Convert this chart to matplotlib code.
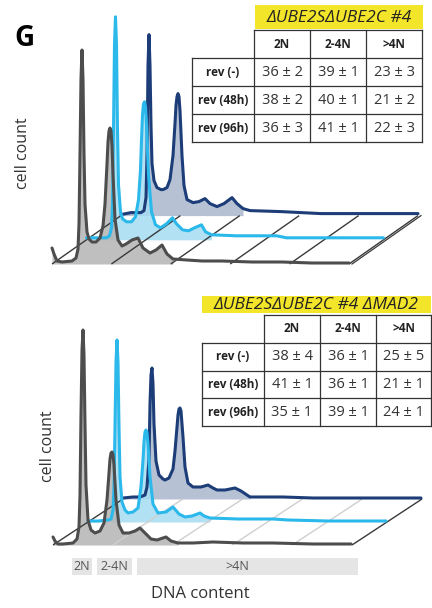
import numpy as np
import matplotlib.pyplot as plt
from matplotlib.patches import Rectangle

plt.rcParams["font.family"] = ["Open Sans", "DejaVu Sans"]

# ====================== data ======================
# DNA content axis in channel units (2N ~ 30, 4N ~ 58), counts in a.u.
# front (gray) / middle (light blue) / back (navy) histograms, upper panel
TOP_GRAY_DNA = [0, 2, 5, 10, 20, 24, 26, 27, 28, 29, 30, 31, 32, 33, 35, 37, 40, 44, 48, 51, 53, 55, 56,
                57, 58, 59, 60, 61, 63, 66, 70, 74, 80, 86, 91, 98, 104, 110, 115, 121, 135, 150, 170,
                200, 230, 260, 297]
TOP_GRAY_CNT = [16, 10, 3, 2, 3, 6, 15, 40, 110, 185, 214, 185, 110, 60, 32, 25, 22, 22, 26, 38, 60, 100, 122,
                133, 136, 133, 118, 90, 45, 24, 18, 20, 24, 26, 16, 11, 14, 19, 10, 5, 4, 3, 3,
                2, 2, 1, 1]

TOP_LBLUE_DNA = [0, 10, 20, 23, 25, 26, 27, 28, 29, 30, 31, 32, 34, 36, 40, 45, 49, 52, 54, 55, 56, 57, 58,
                 59, 60, 62, 65, 69, 74, 80, 86, 90, 96, 102, 108, 115, 119, 125, 150, 190, 200, 297]
TOP_LBLUE_CNT = [2, 2, 2, 4, 12, 35, 110, 195, 223, 195, 110, 55, 28, 21, 18, 18, 23, 40, 70, 100, 125, 136, 138,
                 133, 115, 65, 28, 15, 12, 16, 22, 16, 10, 9, 12, 15, 8, 5, 4, 4, 2, 2]

TOP_NAVY_DNA = [0, 10, 20, 23, 25, 26, 27, 28, 29, 30, 31, 33, 36, 40, 42, 46, 49, 52, 54, 55, 56, 57, 58,
                59, 61, 63, 66, 72, 78, 84, 89, 96, 103, 111, 116, 122, 129, 160, 180, 200, 297]
TOP_NAVY_CNT = [1, 3, 3, 5, 18, 60, 150, 181, 150, 90, 52, 35, 28, 26, 26, 28, 36, 60, 92, 110, 119, 122, 119,
                105, 60, 30, 16, 13, 14, 17, 12, 9, 12, 18, 12, 7, 5, 4, 3, 2, 2]

# lower panel (+ MAD2 deletion)
BOT_GRAY_DNA = [0, 2, 5, 10, 20, 24, 26, 27, 28, 29, 30, 31, 32, 33, 35, 38, 42, 47, 51, 54, 56, 57, 58,
                59, 60, 61, 63, 66, 70, 76, 82, 87, 92, 98, 104, 110, 113, 118, 125, 140, 160, 190, 220,
                260, 298]
BOT_GRAY_CNT = [8, 4, 1, 1, 2, 6, 18, 50, 130, 195, 215, 190, 120, 60, 25, 15, 12, 14, 22, 45, 72, 86, 92,
                93, 90, 80, 45, 20, 12, 12, 14, 17, 12, 6, 5, 7, 8, 4, 2, 2, 3, 2, 2,
                1, 1]

BOT_LBLUE_DNA = [0, 10, 20, 23, 25, 26, 27, 28, 29, 30, 31, 32, 34, 37, 40, 45, 50, 53, 55, 56, 57, 58, 59,
                 60, 62, 65, 70, 78, 85, 91, 97, 104, 112, 116, 122, 150, 185, 200, 240, 298]
BOT_LBLUE_CNT = [1, 1, 2, 3, 12, 35, 95, 160, 182, 160, 95, 45, 20, 12, 9, 10, 14, 35, 62, 80, 90, 92, 89,
                 78, 45, 18, 9, 10, 15, 8, 5, 6, 9, 6, 4, 3, 3, 2, 1, 1]

BOT_NAVY_DNA = [0, 10, 17, 22, 24, 26, 27, 28, 29, 30, 31, 33, 36, 40, 42, 46, 50, 52, 54, 55, 56, 57, 58,
                60, 62, 65, 70, 78, 85, 90, 94, 102, 112, 118, 127, 140, 160, 190, 220, 298]
BOT_NAVY_CNT = [1, 2, 2, 4, 12, 40, 95, 124, 131, 115, 75, 38, 24, 20, 19, 21, 30, 48, 72, 84, 90, 91, 88,
                62, 32, 16, 12, 12, 14, 11, 9, 9, 11, 8, 2, 2, 2, 1, 1, 1]

# DNA-content gates
GATE_LABELS = ["2N", "2-4N", ">4N"]
GATE_BOUNDS = [(19, 39), (44, 79), (84, 305)]

# percent of cells per gate, mean and sd, rows: rev (-), rev (48h), rev (96h)
ROW_LABELS = ["rev (-)", "rev (48h)", "rev (96h)"]
TOP_MEAN = [[36, 39, 23], [38, 40, 21], [36, 41, 22]]
TOP_SD = [[2, 1, 3], [2, 1, 2], [3, 1, 3]]
BOT_MEAN = [[38, 36, 25], [41, 36, 21], [35, 39, 24]]
BOT_SD = [[4, 1, 5], [1, 1, 1], [1, 1, 1]]

TOP_TITLE = "ΔUBE2SΔUBE2C #4"
BOT_TITLE = "ΔUBE2SΔUBE2C #4 ΔMAD2"

# ====================== style ======================
LINE_COLORS = ["#4d4d4d", "#2bb8ea", "#1c3d78"]
FILL_COLORS = ["#b4b4b4", "#a6dcf3", "#a9b6cd"]
EDGE = "#3a3a3a"
YELLOW = "#f3e52a"


def draw_panel(ax, x0, y0, step, floor_len, traces, grid_color, double_edge):
    """3 histograms stacked in an oblique waterfall; depth 0 = front"""
    dx, dy = step
    nd = len(traces) - 1
    # floor divisions
    edges = np.linspace(0, floor_len, 6)
    for i, e in enumerate(edges):
        c = EDGE if i in (0, len(edges) - 1) else grid_color
        ax.plot([x0 + e, x0 + e + nd * dx], [y0, y0 + nd * dy], color=c, lw=1.0, zorder=2,
                solid_capstyle="butt")
    if double_edge:
        ax.plot([x0 + floor_len + 3, x0 + floor_len + nd * dx + 3], [y0, y0 + nd * dy],
                color=EDGE, lw=0.9, zorder=2)

    # back to front
    for depth in range(nd, -1, -1):
        dna, cnt = traces[depth]
        dna = np.asarray(dna, float)
        cnt = np.asarray(cnt, float)
        xs = x0 + dna + depth * dx
        base = y0 + depth * dy
        ys = base - cnt
        m = dna <= 127
        ax.fill_between(xs[m], base, ys[m], color=FILL_COLORS[depth], alpha=0.85, lw=0,
                        zorder=1 + 0.1 * (nd - depth))
        ax.plot(xs, ys, color=LINE_COLORS[depth], lw=2.2, zorder=5 - depth,
                solid_joinstyle="round", solid_capstyle="round")


def draw_table(ax, cols, rows, means, sds):
    kw = dict(color="#333333", lw=0.9, zorder=6, solid_capstyle="projecting")
    ax.plot([cols[1], cols[-1]], [rows[0], rows[0]], **kw)
    for r in rows[1:]:
        ax.plot([cols[0], cols[-1]], [r, r], **kw)
    ax.plot([cols[0], cols[0]], [rows[1], rows[-1]], **kw)
    for c in cols[1:]:
        ax.plot([c, c], [rows[0], rows[-1]], **kw)
    for j, lab in enumerate(GATE_LABELS):
        ax.text((cols[j + 1] + cols[j + 2]) / 2, (rows[0] + rows[1]) / 2, lab,
                ha="center", va="center", fontsize=8.5, fontweight="bold", color="#222222")
    for i, lab in enumerate(ROW_LABELS):
        yc = (rows[i + 1] + rows[i + 2]) / 2
        ax.text((cols[0] + cols[1]) / 2, yc, lab, ha="center", va="center",
                fontsize=8.5, fontweight="bold", color="#222222")
        for j in range(3):
            ax.text((cols[j + 1] + cols[j + 2]) / 2, yc, f"{means[i][j]} ± {sds[i][j]}",
                    ha="center", va="center", fontsize=10.5, color="#333333")


fig = plt.figure(figsize=(4.32, 6.08), dpi=100)
ax = fig.add_axes([0, 0, 1, 1])
ax.set_xlim(0, 432)
ax.set_ylim(608, 0)
ax.axis("off")

# upper panel
draw_panel(ax, 52, 264, (34.5, -24.2), 297,
           [(TOP_GRAY_DNA, TOP_GRAY_CNT), (TOP_LBLUE_DNA, TOP_LBLUE_CNT), (TOP_NAVY_DNA, TOP_NAVY_CNT)],
           EDGE, True)
# lower panel
draw_panel(ax, 53, 545, (35, -23), 299,
           [(BOT_GRAY_DNA, BOT_GRAY_CNT), (BOT_LBLUE_DNA, BOT_LBLUE_CNT), (BOT_NAVY_DNA, BOT_NAVY_CNT)],
           "#cfcfcf", False)

# tables
draw_table(ax, [192, 254, 310, 366, 422], [30, 58, 86, 114, 142], TOP_MEAN, TOP_SD)
draw_table(ax, [202, 264, 320, 376, 431], [315, 343, 371, 398, 426], BOT_MEAN, BOT_SD)

# titles on yellow
ax.add_patch(Rectangle((255, 5), 168, 24, color=YELLOW, lw=0, zorder=3))
ax.text(339, 17.5, TOP_TITLE, ha="center", va="center", fontsize=12.5, style="italic", color="#222222", zorder=4)
ax.add_patch(Rectangle((202, 296), 229, 17, color=YELLOW, lw=0, zorder=3))
ax.text(316, 305, BOT_TITLE, ha="center", va="center", fontsize=12.5, style="italic", color="#222222", zorder=4)

# gate boxes under the lower panel
for lab, (a, b) in zip(GATE_LABELS, GATE_BOUNDS):
    ax.add_patch(Rectangle((53 + a, 558), b - a, 17, color="#e5e5e5", lw=0, zorder=1))
    xc = 53 + (a + b) / 2 if b - a < 100 else 53 + a + 100
    ax.text(xc, 567, lab, ha="center", va="center", fontsize=9, color="#555555")

ax.text(200, 594, "DNA content", ha="center", va="center", fontsize=12, color="#333333")
ax.text(23, 153, "cell count", ha="center", va="center", rotation=90, fontsize=11.5, color="#333333")
ax.text(48, 446, "cell count", ha="center", va="center", rotation=90, fontsize=11.5, color="#333333")
ax.text(14, 46, "G", ha="left", va="baseline", fontsize=20, fontweight="bold", color="black")

fig.savefig("out.png", dpi=100)
